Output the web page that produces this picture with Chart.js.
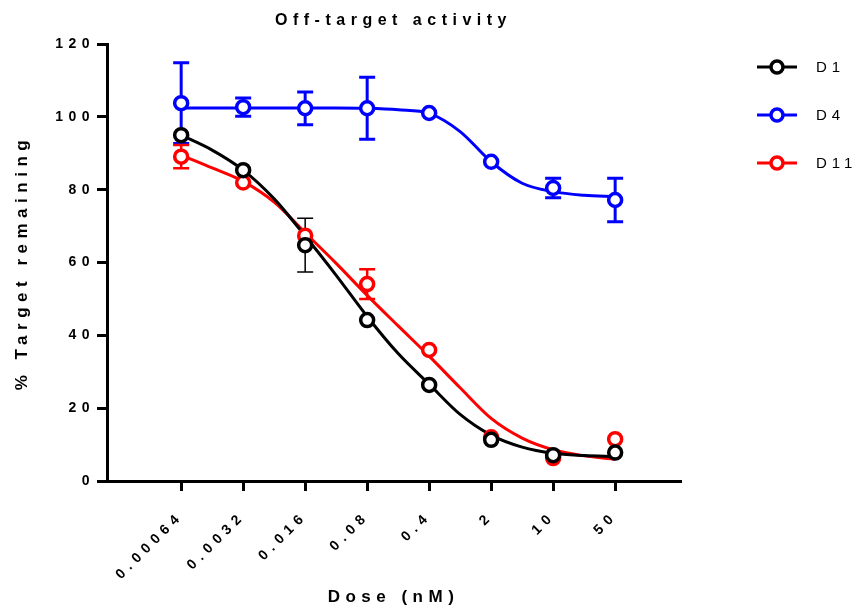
<!DOCTYPE html>
<html>
<head>
<meta charset="utf-8">
<script src="https://cdn.jsdelivr.net/npm/chart.js@4.4.1/dist/chart.umd.min.js"></script>
<style>
  body { margin: 0; background: #fff; }
  canvas { display: block; }
</style>
</head>
<body>
<canvas id="grafico" width="864" height="610"></canvas>
<script>
/* ================= DADOS ================= */

const doses = [0.00064, 0.0032, 0.016, 0.08, 0.4, 2, 10, 50];
const rotulosDose = ["0.00064", "0.0032", "0.016", "0.08", "0.4", "2", "10", "50"];

const series = ["D1", "D4", "D11"];
const cores = ["#000000", "#0000ff", "#ff0000"];

// media por dose
const mediaD1 = [95.0, 85.4, 64.8, 44.2, 26.4, 11.3, 7.1, 7.8];
const mediaD4 = [103.8, 102.7, 102.4, 102.4, 101.1, 87.7, 80.5, 77.2];
const mediaD11 = [89.1, 82.0, 67.4, 54.1, 36.0, 12.0, 6.3, 11.5];

// erro padrao (0 = barra escondida pelo simbolo)
const erroD1 = [0, 0, 7.4, 0, 0, 0, 0, 0];
const erroD4 = [11.1, 2.5, 4.5, 8.5, 0, 0, 2.7, 6.0];
const erroD11 = [3.2, 0, 0, 4.1, 0, 0, 0, 0];

// curvas ajustadas, lidas em meio passo de diluicao
const dosesCurva = [0.00064, 0.00143, 0.0032, 0.00716, 0.016, 0.0358, 0.08, 0.179,
                    0.4, 0.894, 2, 4.47, 10, 22.4, 50];
const curvaD1 = [95.0, 90.9, 85.4, 77.5, 67.3, 56.5, 45.2, 35.0, 26.6, 18.3, 12.6, 9.3, 7.6, 7.0, 6.7];
const curvaD4 = [102.5, 102.5, 102.5, 102.5, 102.5, 102.5, 102.4, 102.0, 101.0, 96.0, 87.7, 81.8, 79.5, 78.5, 78.1];
const curvaD11 = [89.5, 86.0, 82.3, 76.6, 68.2, 59.8, 51.0, 42.6, 34.3, 25.6, 17.2, 11.8, 8.6, 6.9, 6.0];

// limites do eixo x em log10(dose)
const xMin = -4.03;
const xMax = 2.43;

/* ================= UTIL ================= */

const fonte = '"Liberation Sans", Arial, sans-serif';

function pontos(xs, ys) {
  return xs.map((d, i) => ({ x: Math.log10(d), y: ys[i] }));
}

/* ================= PLUGINS ================= */

// espaco entre letras no estilo do grafico original
const espacamento = {
  id: "espacamento",
  beforeDraw(chart) {
    chart.ctx.letterSpacing = "5.5px";
  }
};

const barrasErro = {
  id: "barrasErro",
  beforeDatasetsDraw(chart) {
    const { ctx, scales: { x, y } } = chart;
    chart.data.datasets.forEach(ds => {
      if (!ds.erros) return;
      ctx.save();
      ctx.strokeStyle = ds.borderColor;
      ctx.lineWidth = ds.larguraErro;
      ds.data.forEach((p, j) => {
        const e = ds.erros[j];
        if (!e) return;
        const px = x.getPixelForValue(p.x);
        const yTopo = y.getPixelForValue(p.y + e);
        const yBase = y.getPixelForValue(p.y - e);
        ctx.beginPath();
        ctx.moveTo(px, yTopo);
        ctx.lineTo(px, yBase);
        ctx.moveTo(px - 8, yTopo);
        ctx.lineTo(px + 8, yTopo);
        ctx.moveTo(px - 8, yBase);
        ctx.lineTo(px + 8, yBase);
        ctx.stroke();
      });
      ctx.restore();
    });
  }
};

const legendaLateral = {
  id: "legendaLateral",
  afterDraw(chart) {
    const ctx = chart.ctx;
    ctx.save();
    ctx.letterSpacing = "5px";
    ctx.font = "15px " + fonte;
    ctx.textBaseline = "middle";
    ctx.textAlign = "left";
    chart.data.datasets.filter(ds => ds.erros).forEach((ds, i) => {
      const y = 67 + i * 48;
      ctx.strokeStyle = ds.borderColor;
      ctx.lineWidth = 3;
      ctx.beginPath();
      ctx.moveTo(757, y);
      ctx.lineTo(797, y);
      ctx.stroke();
      ctx.beginPath();
      ctx.arc(777, y, 6, 0, Math.PI * 2);
      ctx.fillStyle = "#fff";
      ctx.fill();
      ctx.lineWidth = 3.5;
      ctx.stroke();
      ctx.fillStyle = "#000";
      ctx.fillText(ds.label, 816, y + 1);
    });
    ctx.restore();
  }
};

/* ================= GRAFICO ================= */

const medias = [mediaD1, mediaD4, mediaD11];
const erros = [erroD1, erroD4, erroD11];
const curvas = [curvaD1, curvaD4, curvaD11];
const largurasErro = [1.5, 3, 2.5];

const conjuntosPontos = series.map((nome, i) => ({
  type: "line",
  label: nome,
  data: pontos(doses, medias[i]),
  erros: erros[i],
  larguraErro: largurasErro[i],
  showLine: false,
  borderColor: cores[i],
  pointBackgroundColor: "#ffffff",
  pointBorderColor: cores[i],
  pointBorderWidth: 3.5,
  pointRadius: 6.5,
  order: 0
}));

const conjuntosCurva = series.map((nome, i) => ({
  type: "line",
  label: nome + " ajuste",
  data: pontos(dosesCurva, curvas[i]),
  borderColor: cores[i],
  borderWidth: 3,
  pointRadius: 0,
  cubicInterpolationMode: "monotone",
  fill: false,
  order: 1
}));

const fonteEixo = { family: fonte, size: 14, weight: "bold" };
const fonteTitulo = { family: fonte, size: 16, weight: "bold" };
const fonteTituloEixo = { family: fonte, size: 17, weight: "bold" };

new Chart(document.getElementById("grafico"), {
  type: "line",
  data: { datasets: [...conjuntosPontos, ...conjuntosCurva] },
  options: {
    responsive: false,
    animation: false,
    devicePixelRatio: 1,
    layout: { padding: { left: 0, right: 184, top: 0, bottom: 0 } },
    plugins: {
      legend: { display: false },
      tooltip: { enabled: false },
      title: {
        display: true,
        text: "Off-target activity",
        color: "#000",
        fullSize: false,
        font: fonteTitulo,
        padding: { top: 11, bottom: 14 }
      }
    },
    scales: {
      x: {
        type: "linear",
        min: xMin,
        max: xMax,
        afterBuildTicks: s => { s.ticks = doses.map(d => ({ value: Math.log10(d) })); },
        afterFit: s => { s.height = 129; },
        border: { color: "#000", width: 3 },
        grid: { drawOnChartArea: false, color: "#000", lineWidth: 3, tickLength: 10 },
        ticks: {
          autoSkip: false,
          minRotation: 45,
          maxRotation: 45,
          padding: 17,
          color: "#000",
          font: fonteEixo,
          callback: (v, i) => rotulosDose[i]
        },
        title: {
          display: true,
          text: "Dose (nM)",
          color: "#000",
          font: fonteTituloEixo,
          padding: { top: 0, bottom: 2 }
        }
      },
      y: {
        min: 0,
        max: 120,
        afterFit: s => { s.width = 107; },
        border: { color: "#000", width: 3 },
        grid: { drawOnChartArea: false, color: "#000", lineWidth: 3, tickLength: 10 },
        ticks: { stepSize: 20, padding: 2, color: "#000", font: fonteEixo },
        title: {
          display: true,
          text: "% Target remaining",
          color: "#000",
          font: fonteTituloEixo,
          padding: { top: 12, bottom: 0 }
        }
      }
    }
  },
  plugins: [espacamento, barrasErro, legendaLateral]
});
</script>
</body>
</html>
